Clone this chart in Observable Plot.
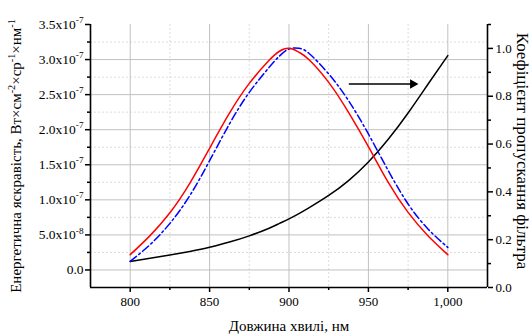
<!DOCTYPE html>
<html>
<head>
<meta charset="utf-8">
<script src="https://cdn.jsdelivr.net/npm/d3@7"></script>
<script src="https://cdn.jsdelivr.net/npm/@observablehq/plot@0.6"></script>
<style>
  html, body { margin: 0; padding: 0; background: #fff; }
</style>
</head>
<body>
<script>
// ---- data ----
const wavelength = [800, 812.5, 825, 837.5, 850, 862.5, 875, 887.5, 893.75, 900, 906.25, 912.5, 925, 937.5, 950, 962.5, 975, 987.5, 1000];
const redRadiance = [0.218e-7, 0.49e-7, 0.815e-7, 1.235e-7, 1.735e-7, 2.235e-7, 2.66e-7, 2.99e-7, 3.115e-7, 3.16e-7, 3.105e-7, 3.0e-7, 2.675e-7, 2.247e-7, 1.758e-7, 1.249e-7, 0.821e-7, 0.489e-7, 0.218e-7];
const blueRadiance = [0.123e-7, 0.361e-7, 0.664e-7, 1.059e-7, 1.558e-7, 2.082e-7, 2.532e-7, 2.889e-7, 3.045e-7, 3.15e-7, 3.16e-7, 3.09e-7, 2.795e-7, 2.414e-7, 1.939e-7, 1.416e-7, 0.941e-7, 0.585e-7, 0.322e-7];
const filterTransmission = [0.109, 0.122, 0.136, 0.151, 0.168, 0.19, 0.216, 0.248, 0.267, 0.287, 0.309, 0.333, 0.385, 0.447, 0.525, 0.62, 0.73, 0.85, 0.97];

const xMajorTicks = [800, 850, 900, 950, 1000];
const xMinorTicks = [825, 875, 925, 975];
const leftMajorTicks = [0, 0.5e-7, 1.0e-7, 1.5e-7, 2.0e-7, 2.5e-7, 3.0e-7, 3.5e-7];
const leftMinorTicks = [0.25e-7, 0.75e-7, 1.25e-7, 1.75e-7, 2.25e-7, 2.75e-7, 3.25e-7];
const rightMajorTicks = [0, 0.2, 0.4, 0.6, 0.8, 1.0];
const rightMinorTicks = [0.1, 0.3, 0.5, 0.7, 0.9, 1.1];

const arrowX = [938, 978];
const arrowY = [2.652e-7, 2.652e-7];

const xTitle = "Довжина хвилі, нм";
const leftTitle = "Енергетична яскравість, Вт×см^-2×ср^-1×нм^-1";
const rightTitle = "Коефіцієнт пропускання фільтра";

// ---- scales ----
const xDomain = [775, 1025];
const yDomain = [-0.25e-7, 3.5e-7];
const rDomain = [0, 1.1];
const toLeft = r => yDomain[0] + (r - rDomain[0]) * (yDomain[1] - yDomain[0]) / (rDomain[1] - rDomain[0]);
const fromLeft = v => rDomain[0] + (v - yDomain[0]) * (rDomain[1] - rDomain[0]) / (yDomain[1] - yDomain[0]);

const redData = wavelength.map((w, i) => ({w, v: redRadiance[i]}));
const blueData = wavelength.map((w, i) => ({w, v: blueRadiance[i]}));
const blackData = wavelength.map((w, i) => ({w, v: toLeft(filterTransmission[i])}));
const arrowData = arrowX.map((w, i) => ({w, v: arrowY[i]}));

function sciFormat(v) {
  if (Math.abs(v) < 1e-15) return "0.0";
  const e = Math.floor(Math.log10(v) + 1e-9);
  const m = v / Math.pow(10, e);
  return m.toFixed(1) + "x10^" + e;
}

const grid = "#c0c0c0";
const minorGrid = "#dcdcdc";

const svg = Plot.plot({
  width: 532,
  height: 336,
  marginLeft: 90,
  marginRight: 45,
  marginTop: 24,
  marginBottom: 49,
  x: {domain: xDomain},
  y: {domain: yDomain},
  style: {fontFamily: "'Liberation Serif', 'Times New Roman', serif", fontSize: "13px", color: "#000", background: "#fff", overflow: "visible"},
  marks: [
    Plot.ruleX(xMinorTicks, {stroke: minorGrid, strokeDasharray: "2,2"}),
    Plot.ruleY(leftMinorTicks, {stroke: minorGrid, strokeDasharray: "2,2"}),
    Plot.ruleX(xMajorTicks, {stroke: grid}),
    Plot.ruleY(leftMajorTicks.filter(d => d < yDomain[1]), {stroke: grid}),
    Plot.line(blackData, {x: "w", y: "v", stroke: "#000", strokeWidth: 1.5, curve: "natural"}),
    Plot.line(blueData, {x: "w", y: "v", stroke: "#0000ff", strokeWidth: 1.5, strokeDasharray: "8,3,2,3", curve: "natural"}),
    Plot.line(redData, {x: "w", y: "v", stroke: "#ff0000", strokeWidth: 1.5, curve: "natural"}),
    Plot.line(arrowData, {x: "w", y: "v", stroke: "#000", strokeWidth: 1.5}),
    Plot.dot(arrowData.slice(1), {x: "w", y: "v", symbol: "triangle", fill: "#000", stroke: "none", r: 3.6, rotate: 90}),
    // axis lines
    Plot.ruleX([xDomain[0], xDomain[1]], {stroke: "#000", strokeWidth: 1.6}),
    Plot.ruleY([yDomain[0]], {stroke: "#000", strokeWidth: 1.6}),
    // bottom axis
    Plot.axisX(xMajorTicks, {anchor: "bottom", tickSize: 5, tickPadding: 4, strokeWidth: 1.5, label: null, fontSize: 13}),
    Plot.axisX(xMinorTicks, {anchor: "bottom", tickSize: 3, strokeWidth: 1.5, fill: "none", label: null}),
    // left axis
    Plot.axisY(leftMajorTicks, {anchor: "left", tickSize: 5, tickPadding: 2, strokeWidth: 1.5, tickFormat: sciFormat, label: null, fontSize: 13.5}),
    Plot.axisY(leftMinorTicks, {anchor: "left", tickSize: 3, strokeWidth: 1.5, fill: "none", label: null}),
    // right axis
    Plot.axisY(rightMajorTicks.map(toLeft), {anchor: "right", tickSize: 5, tickPadding: 3, strokeWidth: 1.5, tickFormat: d => fromLeft(d).toFixed(1), label: null, fontSize: 13}),
    Plot.axisY(rightMinorTicks.map(toLeft), {anchor: "right", tickSize: 3, strokeWidth: 1.5, fill: "none", label: null}),
    // titles
    Plot.text([xTitle], {frameAnchor: "bottom", dy: 39, fontSize: 15, lineAnchor: "middle", textAnchor: "middle"}),
    Plot.text([leftTitle], {frameAnchor: "left", dx: -74, rotate: -90, fontSize: 15, lineAnchor: "middle", textAnchor: "middle"}),
    Plot.text([rightTitle], {frameAnchor: "right", dx: 35, dy: -5, rotate: 90, fontSize: 17, lineAnchor: "middle", textAnchor: "middle"})
  ]
});

document.body.appendChild(svg);

// turn "^n" into raised superscripts
svg.querySelectorAll("text").forEach(t => {
  const s = t.textContent;
  if (!s.includes("^") || t.querySelector("tspan")) return;
  const fs = parseFloat(getComputedStyle(t).fontSize) || 13;
  const shift = fs * 0.42;
  const parts = s.split(/\^(-?\d+)/);
  t.textContent = "";
  parts.forEach((p, i) => {
    if (p === "") { return; }
    const ts = document.createElementNS("http://www.w3.org/2000/svg", "tspan");
    ts.textContent = p;
    if (i % 2 === 1) {
      ts.setAttribute("font-size", (fs * 0.68).toFixed(1));
      ts.setAttribute("dy", (-shift).toFixed(2));
    } else if (i > 0) {
      ts.setAttribute("dy", shift.toFixed(2));
    }
    t.appendChild(ts);
  });
});
</script>
</body>
</html>
